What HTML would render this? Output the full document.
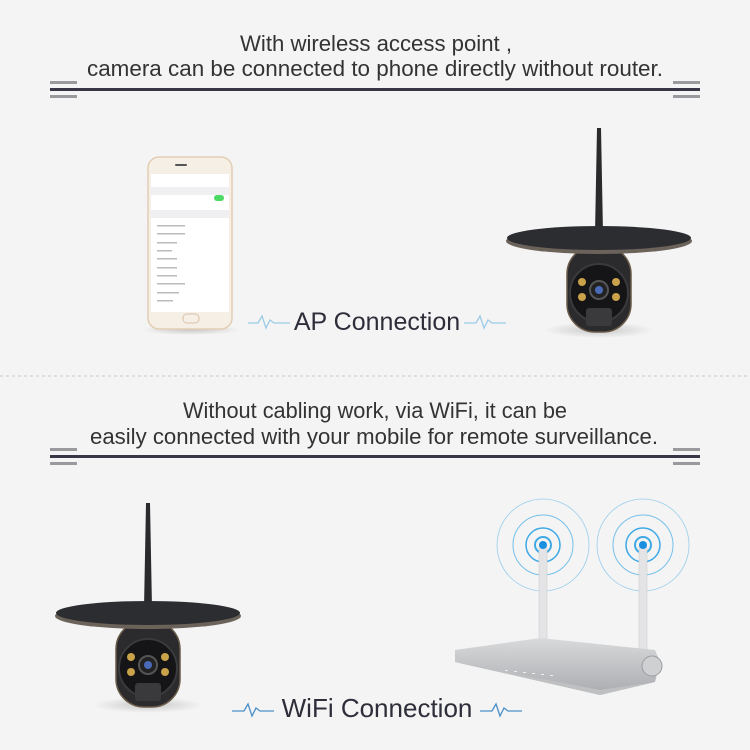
<!DOCTYPE html>
<html><head><meta charset="utf-8"><style>
html,body{margin:0;padding:0;background:#f4f4f4}
svg{display:block}
text{font-family:"Liberation Sans",sans-serif}
</style></head><body>
<svg width="750" height="750" viewBox="0 0 750 750" xmlns="http://www.w3.org/2000/svg">
<defs>
<radialGradient id="shadow" cx="50%" cy="50%" r="50%"><stop offset="0" stop-color="#000" stop-opacity=".18"/><stop offset="1" stop-color="#000" stop-opacity="0"/></radialGradient>
<linearGradient id="silver" x1="0" y1="0" x2="0" y2="1"><stop offset="0" stop-color="#d9dadc"/><stop offset="1" stop-color="#a9abae"/></linearGradient>
<g id="cam">
  <ellipse cx="0" cy="92" rx="55" ry="8" fill="url(#shadow)"/>
  <path d="M-2,-110 L2,-110 L4,-5 L-4,-5 Z" fill="#2a2a2c"/>
  <rect x="-32" y="8" width="64" height="86" rx="28" fill="#2b2b2e" stroke="#6a5a48" stroke-width="1.5"/>
  <circle cx="0" cy="55" r="29" fill="#151517" stroke="#3a3a3c" stroke-width="2"/>
  <rect x="-13" y="70" width="26" height="18" rx="3" fill="#3a3a3d"/>
  <circle cx="0" cy="52" r="9" fill="#222" stroke="#555" stroke-width="2"/>
  <circle cx="0" cy="52" r="4" fill="#4a6ab8"/>
  <circle cx="-17" cy="44" r="4" fill="#c9a24a"/><circle cx="17" cy="44" r="4" fill="#c9a24a"/>
  <circle cx="-17" cy="59" r="4" fill="#c9a24a"/><circle cx="17" cy="59" r="4" fill="#c9a24a"/>
  <ellipse cx="0" cy="3" rx="93" ry="13" fill="#6b625a"/>
  <ellipse cx="0" cy="0" rx="92" ry="12" fill="#2c2d31"/>
</g>
</defs>

<!-- header 1 -->
<text x="240" y="51" font-size="22" fill="#333" textLength="272" lengthAdjust="spacingAndGlyphs">With wireless access point ,</text>
<text x="87" y="76" font-size="22" fill="#333" textLength="576" lengthAdjust="spacingAndGlyphs">camera can be connected to phone directly  without router.</text>
<rect x="50" y="88" width="650" height="3" fill="#363646"/>
<rect x="50" y="81" width="27" height="3" fill="#9a9a9e"/><rect x="50" y="95" width="27" height="3" fill="#9a9a9e"/>
<rect x="673" y="81" width="27" height="3" fill="#9a9a9e"/><rect x="673" y="95" width="27" height="3" fill="#9a9a9e"/>

<!-- phone -->
<ellipse cx="191" cy="330" rx="50" ry="5" fill="url(#shadow)"/>
<rect x="148" y="157" width="84" height="172" rx="11" fill="#f6efe6" stroke="#e2cdb3" stroke-width="1.5"/>
<rect x="151" y="174" width="78" height="138" fill="#fff"/>
<rect x="151" y="187" width="78" height="8" fill="#f0f0f2"/>
<rect x="151" y="210" width="78" height="8" fill="#f0f0f2"/>
<rect x="214" y="195" width="10" height="6" rx="3" fill="#4cd964"/>
<g fill="#bbb">
<rect x="157" y="225" width="28" height="1.5"/><rect x="157" y="233" width="28" height="1.5"/><rect x="157" y="242" width="20" height="1.5"/><rect x="157" y="250" width="15" height="1.5"/><rect x="157" y="258" width="20" height="1.5"/><rect x="157" y="267" width="20" height="1.5"/><rect x="157" y="275" width="20" height="1.5"/><rect x="157" y="283" width="28" height="1.5"/><rect x="157" y="292" width="22" height="1.5"/><rect x="157" y="300" width="16" height="1.5"/>
</g>
<rect x="175" y="164" width="12" height="2" rx="1" fill="#555"/>
<rect x="183" y="314" width="16" height="9" rx="4" fill="none" stroke="#d8c2a8"/>

<!-- AP connection -->
<path d="M248,323 L258,323 L262,316 L266,328 L270,320 L274,323 L290,323" fill="none" stroke="#9ccbe8" stroke-width="1.3"/>
<path d="M464,323 L476,323 L480,316 L484,328 L488,320 L492,323 L506,323" fill="none" stroke="#9ccbe8" stroke-width="1.3"/>
<text x="377" y="330" text-anchor="middle" font-size="25" fill="#2e2e3a">AP Connection</text>

<use href="#cam" transform="translate(599,238)"/>

<line x1="0" y1="376" x2="750" y2="376" stroke="#c8c8c8" stroke-dasharray="3,3"/>

<!-- header 2 -->
<text x="183" y="418" font-size="22" fill="#333" textLength="384" lengthAdjust="spacingAndGlyphs">Without cabling work, via WiFi, it can be</text>
<text x="90" y="444" font-size="22" fill="#333" textLength="568" lengthAdjust="spacingAndGlyphs">easily connected with your mobile for remote surveillance.</text>
<rect x="50" y="455" width="650" height="3" fill="#363646"/>
<rect x="50" y="448" width="27" height="3" fill="#9a9a9e"/><rect x="50" y="462" width="27" height="3" fill="#9a9a9e"/>
<rect x="673" y="448" width="27" height="3" fill="#9a9a9e"/><rect x="673" y="462" width="27" height="3" fill="#9a9a9e"/>

<use href="#cam" transform="translate(148,613)"/>

<!-- router -->
<g fill="none" stroke="#3fa9e6">
<circle cx="543" cy="545" r="8" stroke-width="2"/><circle cx="543" cy="545" r="17" stroke-width="1.5"/><circle cx="543" cy="545" r="30" stroke-width="1" opacity=".7"/><circle cx="543" cy="545" r="46" stroke-width=".8" opacity=".5"/>
<circle cx="643" cy="545" r="8" stroke-width="2"/><circle cx="643" cy="545" r="17" stroke-width="1.5"/><circle cx="643" cy="545" r="30" stroke-width="1" opacity=".7"/><circle cx="643" cy="545" r="46" stroke-width=".8" opacity=".5"/>
</g>
<rect x="539" y="545" width="8" height="100" rx="3" fill="#e4e4e6" stroke="#c8c8ca" stroke-width=".5"/>
<rect x="639" y="545" width="8" height="115" rx="3" fill="#e4e4e6" stroke="#c8c8ca" stroke-width=".5"/>
<circle cx="543" cy="545" r="4" fill="#1a8fe0"/><circle cx="643" cy="545" r="4" fill="#1a8fe0"/>
<path d="M455,650 L540,638 L655,650 L660,662 L655,682 L600,695 L455,662 Z" fill="url(#silver)"/>
<path d="M455,662 L600,695 L655,682 L600,690 Z" fill="#bfc0c2"/>
<circle cx="652" cy="666" r="10" fill="#cfd0d2" stroke="#9a9ca0"/>
<g fill="#eee"><rect x="505" y="670" width="3" height="1"/><rect x="514" y="671" width="3" height="1"/><rect x="523" y="672" width="3" height="1"/><rect x="532" y="673" width="3" height="1"/><rect x="541" y="674" width="3" height="1"/><rect x="550" y="675" width="3" height="1"/></g>

<!-- WiFi connection -->
<path d="M232,711 L244,711 L248,704 L252,716 L256,708 L260,711 L274,711" fill="none" stroke="#4a90c8" stroke-width="1.3"/>
<path d="M480,711 L492,711 L496,704 L500,716 L504,708 L508,711 L522,711" fill="none" stroke="#4a90c8" stroke-width="1.3"/>
<text x="377" y="717" text-anchor="middle" font-size="26" fill="#2e2e3a">WiFi Connection</text>
</svg>
</body></html>
